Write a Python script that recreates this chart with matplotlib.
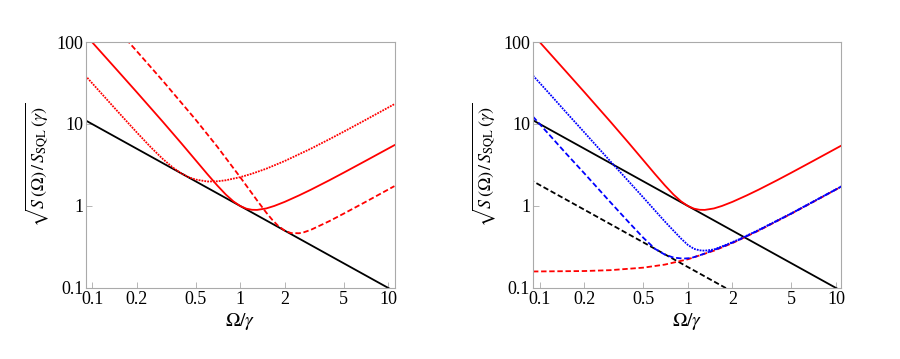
import matplotlib

matplotlib.use("Agg")
import matplotlib.pyplot as plt  # noqa: E402
from matplotlib.ticker import FixedLocator, FixedFormatter, NullLocator  # noqa: E402

plt.rcParams["font.family"] = ["Liberation Serif", "DejaVu Serif"]
plt.rcParams["mathtext.fontset"] = "stix"

# values (x = Omega/gamma, y = sqrt(S/S_SQL(gamma)))
sql_x = [0.085, 1.0, 11.5]
sql_y = [11.76, 1.0, 0.087]

red_solid_x = [0.09, 0.1, 0.15, 0.2, 0.3, 0.4, 0.5, 0.6, 0.7, 0.8, 0.9, 1.0,
               1.1, 1.2, 1.3, 1.5, 1.7, 2.0, 2.5, 3.0, 4.0, 5.0, 7.0, 11.0]
red_solid_y = [123, 99.5, 43.9, 24.5, 10.66, 5.83, 3.62, 2.45, 1.78, 1.378, 1.138, 1.0,
               0.928, 0.899, 0.896, 0.934, 1.002, 1.124, 1.348, 1.58, 2.06, 2.55, 3.54, 5.52]

red_dot_x = [0.09, 0.1, 0.15, 0.2, 0.25, 0.3, 0.35, 0.4, 0.45, 0.5, 0.6, 0.7, 0.8,
             1.0, 1.2, 1.5, 2.0, 3.0, 4.0, 5.0, 7.0, 11.0]
red_dot_y = [38.9, 31.5, 13.99, 7.92, 5.17, 3.75, 2.957, 2.50, 2.244, 2.10, 1.99, 2.00,
             2.06, 2.247, 2.474, 2.85, 3.54, 5.0, 6.52, 8.06, 11.18, 17.47]

red_dash_x = [0.17, 0.18, 0.2, 0.3, 0.5, 0.7, 1.0, 1.2, 1.3, 1.5, 1.65, 1.8, 2.0, 2.2,
              2.5, 2.7, 3.0, 4.0, 5.0, 7.0, 11.0]
red_dash_y = [107.9, 96.06, 77.5, 33.66, 11.31, 5.29, 2.247, 1.427, 1.170, 0.830, 0.675,
              0.575, 0.5, 0.468, 0.465, 0.479, 0.512, 0.654, 0.807, 1.118, 1.747]

# right panel
sq_sql_x = [0.085, 2.0]
sq_sql_y = [2.12, 0.09]

red_flat_x = [0.09, 0.2, 0.3, 0.5, 0.7, 1.0, 1.5, 2.0, 3.0, 5.0, 7.0, 11.0]
red_flat_y = [0.159, 0.161, 0.165, 0.177, 0.193, 0.224, 0.285, 0.353, 0.50, 0.806,
              1.117, 1.745]

blue_dot_x = [0.09, 0.12, 0.15, 0.2, 0.3, 0.4, 0.5, 0.6, 0.7, 0.8, 0.9, 1.0, 1.1,
              1.2, 1.3, 1.5, 1.8, 2.2, 3.0, 5.0, 7.0, 11.0]
blue_dot_y = [39, 22, 14, 7.9, 3.5, 1.98, 1.27, 0.88, 0.645, 0.50, 0.40, 0.335, 0.30,
              0.288, 0.285, 0.295, 0.335, 0.39, 0.51, 0.815, 1.13, 1.75]

blue_dash_x = [0.09, 0.12, 0.15, 0.2, 0.3, 0.4, 0.5, 0.6, 0.7, 0.8, 0.93, 1.05, 1.2,
               1.5, 1.8, 2.2, 3.0, 5.0, 7.0, 11.0]
blue_dash_y = [12.3, 6.9, 4.4, 2.5, 1.11, 0.63, 0.41, 0.30, 0.255, 0.235, 0.228, 0.232,
               0.25, 0.29, 0.33, 0.385, 0.505, 0.81, 1.125, 1.75]

x_ticks = [0.1, 0.2, 0.5, 1, 2, 5, 10]
x_labels = ["0.1", "0.2", "0.5", "1", "2", "5", "10"]
y_ticks = [0.1, 1, 10, 100]
y_labels = ["0.1", "1", "10", "100"]

RED = "#ff0000"
BLUE = "#0000ff"
LW = 1.3
DOT = (0, (1, 0.6))
DASH = (0, (3, 1.5))


def style_axes(ax, xlim):
    ax.set_xscale("log")
    ax.set_yscale("log")
    ax.set_xlim(*xlim)
    ax.set_ylim(0.1, 100)
    ax.xaxis.set_major_locator(FixedLocator(x_ticks))
    ax.xaxis.set_major_formatter(FixedFormatter(x_labels))
    ax.yaxis.set_major_locator(FixedLocator(y_ticks))
    ax.yaxis.set_major_formatter(FixedFormatter(y_labels))
    ax.xaxis.set_minor_locator(NullLocator())
    ax.yaxis.set_minor_locator(NullLocator())
    ax.tick_params(direction="in", length=4, width=0.6, color="#aaaaaa",
                   labelsize=13, pad=2, top=False, right=False)
    for sp in ax.spines.values():
        sp.set_color("#aaaaaa")
        sp.set_linewidth(0.8)
    ax.set_xlabel(r"$\Omega/\gamma$", fontsize=14, labelpad=2)
    ax.set_ylabel(r"$\sqrt{S\,(\Omega)\,/\,S_{\rm SQL}\,(\gamma)}$", fontsize=13, labelpad=4)


fig = plt.figure(figsize=(9.0, 3.59), dpi=100)
ax1 = fig.add_axes([0.0956, 0.1978, 0.3433, 0.6852])
ax2 = fig.add_axes([0.5922, 0.1978, 0.3422, 0.6852])

ax1.plot(sql_x, sql_y, color="black", lw=LW)
ax1.plot(red_dot_x, red_dot_y, color=RED, lw=LW, ls=DOT)
ax1.plot(red_solid_x, red_solid_y, color=RED, lw=LW)
ax1.plot(red_dash_x, red_dash_y, color=RED, lw=LW, ls=DASH)
style_axes(ax1, (0.091, 11.1))

ax2.plot(sql_x, sql_y, color="black", lw=LW)
ax2.plot(sq_sql_x, sq_sql_y, color="black", lw=LW, ls=DASH)
ax2.plot(red_solid_x, red_solid_y, color=RED, lw=LW)
ax2.plot(red_flat_x, red_flat_y, color=RED, lw=LW, ls=DASH)
ax2.plot(blue_dot_x, blue_dot_y, color=BLUE, lw=LW, ls=DOT)
ax2.plot(blue_dash_x, blue_dash_y, color=BLUE, lw=LW, ls=DASH)
style_axes(ax2, (0.09, 10.8))

fig.savefig("out.png", dpi=100)
